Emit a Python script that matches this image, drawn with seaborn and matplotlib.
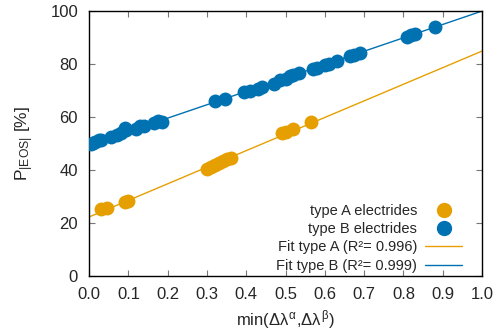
import numpy as np
import pandas as pd
import matplotlib
matplotlib.use('Agg')
import matplotlib.pyplot as plt
import seaborn as sns

# valores
type_a_x = [0.03, 0.045, 0.09, 0.10, 0.30, 0.31, 0.32, 0.33, 0.34, 0.35, 0.36,
            0.49, 0.50, 0.52, 0.565]
type_a_y = [25.3, 25.8, 27.8, 28.5, 40.5, 41.3, 42.0, 42.7, 43.3, 44.0, 44.7,
            53.8, 54.2, 55.5, 58.0]

type_b_x = [0.005, 0.01, 0.015, 0.025, 0.03, 0.055, 0.07, 0.08, 0.09, 0.095,
            0.12, 0.13, 0.14, 0.165, 0.175, 0.185, 0.32, 0.345, 0.395, 0.41,
            0.43, 0.44, 0.47, 0.485, 0.50, 0.51, 0.52, 0.535, 0.57, 0.58,
            0.60, 0.61, 0.63, 0.665, 0.675, 0.69, 0.81, 0.82, 0.83, 0.88]
type_b_y = [49.8, 50.2, 50.7, 51.2, 51.5, 52.3, 53.3, 53.8, 56.0, 55.0,
            55.5, 56.5, 56.8, 57.8, 58.5, 58.2, 66.0, 67.0, 69.5, 69.8,
            70.5, 71.3, 72.5, 73.8, 74.5, 75.5, 76.0, 76.5, 78.0, 78.5,
            79.5, 80.0, 81.0, 83.0, 83.5, 84.2, 90.2, 90.8, 91.3, 94.0]

# ajustes lineares (inclinação, intercepto)
fit_a = (62.6, 22.3)
fit_b = (50.5, 49.5)
fit_x = [0.0, 1.0]

c_a = '#E69F00'
c_b = '#0072B2'

sns.set_style('ticks')
plt.rcParams['font.family'] = ['Liberation Sans', 'DejaVu Sans']
plt.rcParams['mathtext.fontset'] = 'custom'
plt.rcParams['mathtext.rm'] = 'Liberation Sans'
plt.rcParams['mathtext.it'] = 'Liberation Sans'

fig = plt.figure(figsize=(4.98, 3.35), dpi=100)
ax = fig.add_axes([0.179, 0.176, 0.789, 0.791])

df_a = pd.DataFrame({'x': type_a_x, 'y': type_a_y})
df_b = pd.DataFrame({'x': type_b_x, 'y': type_b_y})
line_a = pd.DataFrame({'x': fit_x, 'y': [fit_a[0] * v + fit_a[1] for v in fit_x]})
line_b = pd.DataFrame({'x': fit_x, 'y': [fit_b[0] * v + fit_b[1] for v in fit_x]})

sns.lineplot(data=line_a, x='x', y='y', ax=ax, color=c_a, linewidth=1.0, zorder=1)
sns.lineplot(data=line_b, x='x', y='y', ax=ax, color=c_b, linewidth=1.0, zorder=1)
sns.scatterplot(data=df_a, x='x', y='y', ax=ax, color=c_a, s=100, linewidth=0, zorder=3)
sns.scatterplot(data=df_b, x='x', y='y', ax=ax, color=c_b, s=100, linewidth=0, zorder=3)

ax.set_xlim(0, 1)
ax.set_ylim(0, 100)
ax.set_xticks(np.arange(0, 1.01, 0.1))
ax.set_xticklabels([f'{v:.1f}' for v in np.arange(0, 1.01, 0.1)])
ax.set_yticks(np.arange(0, 101, 20))
ax.tick_params(direction='in', top=True, right=True, length=4, width=0.8,
               labelsize=12, color='#777777', pad=8)
for s in ax.spines.values():
    s.set_linewidth(1.0)
    s.set_color('black')

ax.set_xlabel(r'min($\Delta\lambda^{\alpha}$,$\Delta\lambda^{\beta}$)', fontsize=12, labelpad=4)
ax.set_ylabel(r'P$_{|\mathrm{EOS}|}$ [%]', fontsize=12.5, labelpad=10)

handles = [
    plt.Line2D([], [], marker='o', linestyle='', color=c_a, markersize=10),
    plt.Line2D([], [], marker='o', linestyle='', color=c_b, markersize=10),
    plt.Line2D([], [], color=c_a, linewidth=1.0),
    plt.Line2D([], [], color=c_b, linewidth=1.0),
]
labels = ['type A electrides', 'type B electrides',
          'Fit type A (R\u00b2= 0.996)', 'Fit type B (R\u00b2= 0.999)']
leg = ax.legend(handles, labels, loc='lower right', frameon=False, markerfirst=False,
                fontsize=10.5, handlelength=2.6, handletextpad=0.5, labelspacing=0.3,
                borderaxespad=0.0, bbox_to_anchor=(0.965, -0.01))

fig.savefig('out.png', dpi=100)
plt.close(fig)
